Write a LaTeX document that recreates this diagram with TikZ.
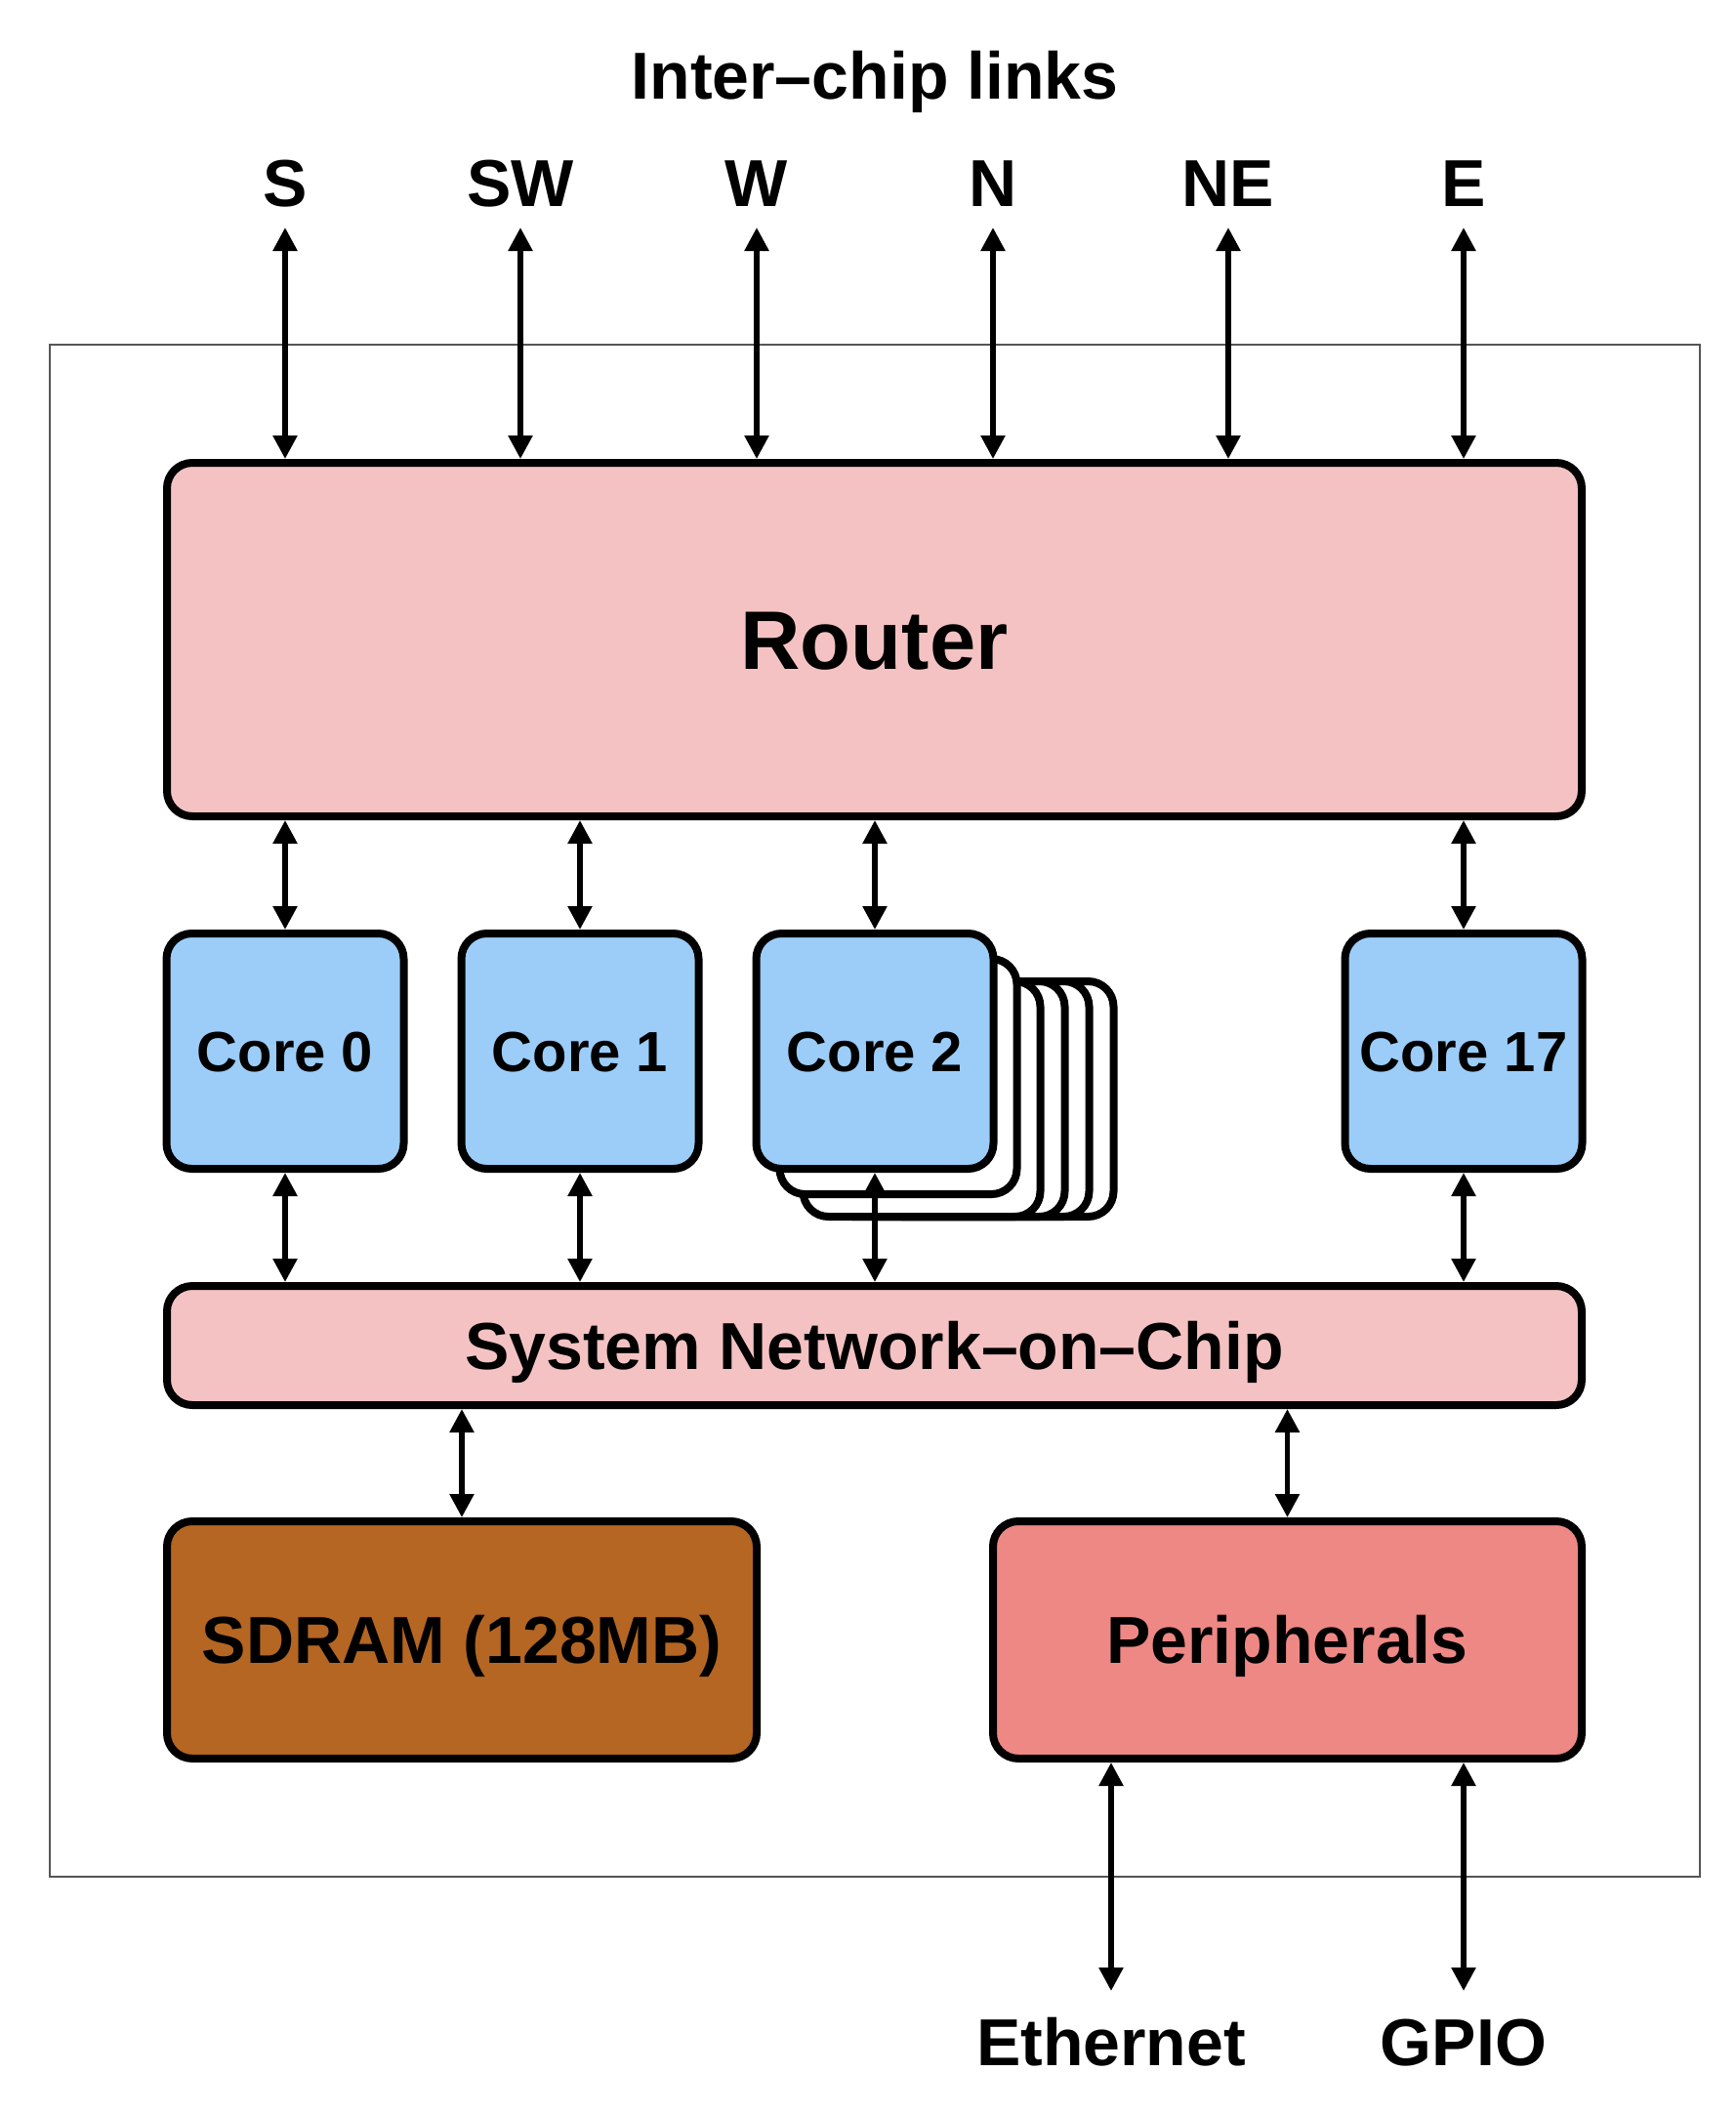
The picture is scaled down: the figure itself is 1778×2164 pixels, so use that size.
\documentclass[tikz,border=0pt]{standalone}
\usepackage{fontspec}
\setmainfont{Liberation Sans}[BoldFont={Liberation Sans Bold}]
\usetikzlibrary{arrows.meta}
\definecolor{routerpink}{HTML}{F4C2C2}
\definecolor{coreblue}{HTML}{9BCDF8}
\definecolor{sdrambrown}{HTML}{B46622}
\definecolor{periphred}{HTML}{EE8884}
\definecolor{framegray}{HTML}{555555}
\begin{document}
\begin{tikzpicture}[x=1pt,y=-1pt,
  box/.style={draw=black, line width=8pt, rounded corners=26pt, inner sep=0pt,
    font=\fontsize{68}{70}\selectfont\bfseries, text height=48pt, text depth=0pt},
  corebox/.style={box, fill=coreblue, minimum width=243pt, minimum height=241pt,
    font=\fontsize{58}{60}\selectfont\bfseries, text height=41pt},
  layer/.style={draw=black, fill=white, line width=8pt, rounded corners=26pt},
  link/.style={line width=5.5pt, {Triangle[length=24pt,width=24pt]}-{Triangle[length=24pt,width=24pt]}},
  lbl/.style={font=\fontsize{68}{70}\selectfont\bfseries, anchor=base, inner sep=0pt}
]
\useasboundingbox (0,0) rectangle (1778,2164);
% outer chip frame
\draw[framegray, line width=2.5pt] (51,353) rectangle (1741,1922);

% title and link labels
\node[lbl] (title) at (896,101) {Inter–chip links};
\foreach \n/\t/\x in {s/S/292, sw/SW/533, w/W/775, n/N/1017, ne/NE/1258, e/E/1499}{
  \node[lbl] (l\n) at (\x,211) {\t};
  \coordinate (t\n) at (\x,233);
}

% router
\node[box, fill=routerpink, minimum width=1449pt, minimum height=362pt,
  font=\fontsize{85}{87}\selectfont\bfseries, text height=61pt] (router) at (895.5,655) {Router};

% stacked layers behind core 2
\foreach \dx/\dy in {123/49, 98/49, 73/49, 48/49, 24/26}{
  \draw[layer] (774.5+\dx,956+\dy) rectangle ++(243,241);
}

% cores
\node[corebox] (c0) at (292,1076.5) {Core 0};
\node[corebox] (c1) at (594,1076.5) {Core 1};
\node[corebox] (c2) at (896,1076.5) {Core 2};
\node[corebox] (c17) at (1499,1076.5) {Core 17};

% network on chip
\node[box, fill=routerpink, minimum width=1449pt, minimum height=122pt] (noc) at (895.5,1378) {System Network–on–Chip};

% sdram and peripherals
\node[box, fill=sdrambrown, minimum width=604pt, minimum height=243pt] (sdram) at (473,1679.5) {SDRAM (128MB)};
\node[box, fill=periphred, minimum width=603pt, minimum height=243pt] (periph) at (1318.5,1679.5) {Peripherals};

% external labels
\node[lbl] (eth) at (1138,2115) {Ethernet};
\node[lbl] (gpio) at (1499,2115) {GPIO};
\coordinate (teth) at (1138,2039);
\coordinate (tgpio) at (1499,2039);

% inter-chip links
\foreach \n in {s,sw,w,n,ne,e}{
  \draw[link] (t\n) -- (router.north -| t\n);
}
% router <-> cores
\foreach \c in {c0,c1,c2,c17}{
  \draw[link] (router.south -| \c.north) -- (\c.north);
  \draw[link] (\c.south) -- (noc.north -| \c.south);
}
% noc <-> memory / peripherals
\draw[link] (noc.south -| sdram.north) -- (sdram.north);
\draw[link] (noc.south -| periph.north) -- (periph.north);
% peripherals <-> outside
\draw[link] (periph.south -| teth) -- (teth);
\draw[link] (periph.south -| tgpio) -- (tgpio);
\end{tikzpicture}
\end{document}
